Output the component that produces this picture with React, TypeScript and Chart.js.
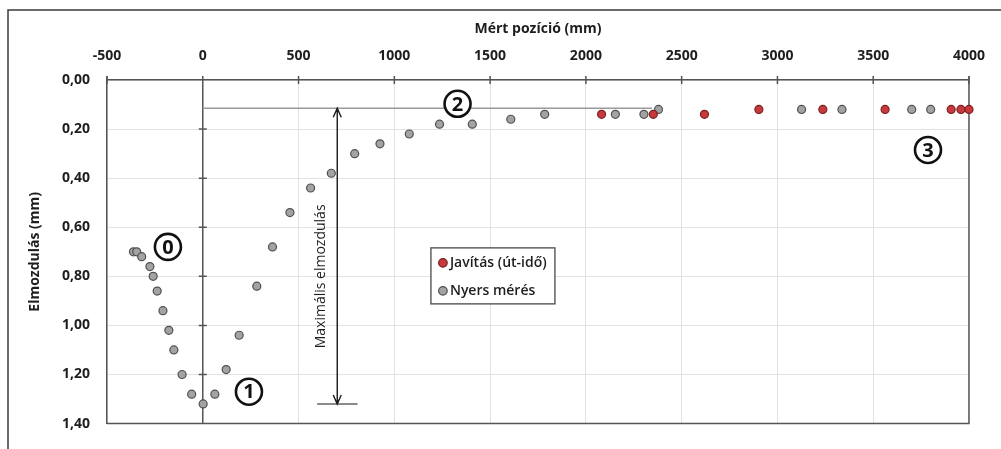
import React, { useEffect, useRef } from "react";
import { Chart, registerables } from "chart.js";

Chart.register(...registerables);

// ---- data ----
const xTickValues = [-500, 0, 500, 1000, 1500, 2000, 2500, 3000, 3500, 4000];
const yTickValues = [0, 0.2, 0.4, 0.6, 0.8, 1.0, 1.2, 1.4];

const rawLabel = "Nyers mérés";
const rawX = [-362, -345, -319, -276, -259, -238, -208, -177, -151, -108, -58, 2, 63, 122, 190, 282, 364, 455, 563, 671, 793, 925, 1078, 1236, 1407, 1608, 1785, 2154, 2303, 2379, 3126, 3337, 3701, 3800];
const rawY = [0.70, 0.70, 0.72, 0.76, 0.80, 0.86, 0.94, 1.02, 1.10, 1.20, 1.28, 1.32, 1.28, 1.18, 1.04, 0.84, 0.68, 0.54, 0.44, 0.38, 0.30, 0.26, 0.22, 0.18, 0.18, 0.16, 0.14, 0.14, 0.14, 0.12, 0.12, 0.12, 0.12, 0.12];

const corrLabel = "Javítás (út-idő)";
const corrX = [2082, 2352, 2619, 2903, 3237, 3562, 3907, 3958, 4000];
const corrY = [0.14, 0.14, 0.14, 0.12, 0.12, 0.12, 0.12, 0.12, 0.12];

const xTitle = "Mért pozíció (mm)";
const yTitle = "Elmozdulás (mm)";

// annotations (data coordinates)
const maxLineY = 0.115;
const maxLineX = [0, 2345];
const arrowX = 702;
const arrowY = [0.115, 1.32];
const baseLineX = [597, 808];
const baseLineY = 1.32;
const arrowText = "Maximális elmozdulás";
const arrowTextPos = { x: 618, y: 0.8 };
const circledLabels = [
  { t: "0", x: -182, y: 0.68 },
  { t: "1", x: 241, y: 1.27 },
  { t: "2", x: 1330, y: 0.097 },
  { t: "3", x: 3786, y: 0.285 },
];
const legendAnchor = { x: 1191, y: 0.684 };

const FONT = "'Open Sans', 'DejaVu Sans', sans-serif";
const AXIS = "#555555";
const GRID = "#e2e2e2";
const TEXT = "#1e1e1e";

const decor = {
  id: "decor",
  beforeDatasetsDraw(chart: any) {
    const { ctx, chartArea: a, scales } = chart;
    const xs = scales.x;
    const ys = scales.y;
    const px = (v: number) => xs.getPixelForValue(v);
    const py = (v: number) => ys.getPixelForValue(v);
    ctx.save();
    // borders
    ctx.strokeStyle = AXIS;
    ctx.lineWidth = 1.5;
    ctx.beginPath();
    ctx.moveTo(a.right, a.top - 4);
    ctx.lineTo(a.right, a.bottom);
    ctx.lineTo(a.left, a.bottom);
    ctx.moveTo(a.left, a.top - 4);
    ctx.lineTo(a.left, a.top);
    ctx.stroke();
    // x = 0 axis with cross ticks
    const x0 = px(0);
    ctx.beginPath();
    ctx.moveTo(x0, a.top - 4);
    ctx.lineTo(x0, a.bottom);
    for (const v of yTickValues) {
      if (v > 0 && v < 1.4) {
        ctx.moveTo(x0 - 4, py(v));
        ctx.lineTo(x0 + 4, py(v));
      }
    }
    for (const v of xTickValues) {
      ctx.moveTo(px(v), a.top - 4);
      ctx.lineTo(px(v), a.top + 4);
    }
    ctx.stroke();

    // max line
    ctx.strokeStyle = "#9a9a9a";
    ctx.lineWidth = 1.5;
    ctx.beginPath();
    ctx.moveTo(px(maxLineX[0]), py(maxLineY));
    ctx.lineTo(px(maxLineX[1]), py(maxLineY));
    ctx.stroke();
    // base line
    ctx.strokeStyle = "#8a8a8a";
    ctx.lineWidth = 2;
    ctx.beginPath();
    ctx.moveTo(px(baseLineX[0]), py(baseLineY));
    ctx.lineTo(px(baseLineX[1]), py(baseLineY));
    ctx.stroke();
    // arrow
    const ax = px(arrowX);
    const y1 = py(arrowY[0]);
    const y2 = py(arrowY[1]);
    ctx.strokeStyle = "#1a1a1a";
    ctx.lineWidth = 1.4;
    ctx.beginPath();
    ctx.moveTo(ax, y1);
    ctx.lineTo(ax, y2);
    ctx.moveTo(ax - 4, y1 + 9);
    ctx.lineTo(ax, y1);
    ctx.lineTo(ax + 4, y1 + 9);
    ctx.moveTo(ax - 4, y2 - 9);
    ctx.lineTo(ax, y2);
    ctx.lineTo(ax + 4, y2 - 9);
    ctx.stroke();
    // rotated text
    ctx.save();
    ctx.translate(px(arrowTextPos.x), py(arrowTextPos.y));
    ctx.rotate(-Math.PI / 2);
    ctx.fillStyle = TEXT;
    ctx.font = `500 14px ${FONT}`;
    ctx.textAlign = "center";
    ctx.textBaseline = "middle";
    ctx.fillText(arrowText, 0, 0);
    ctx.restore();
    // circled numbers
    for (const c of circledLabels) {
      const cx = px(c.x);
      const cy = py(c.y);
      ctx.beginPath();
      ctx.arc(cx, cy, 13, 0, Math.PI * 2);
      ctx.fillStyle = "#ffffff";
      ctx.fill();
      ctx.strokeStyle = "#111";
      ctx.lineWidth = 2.6;
      ctx.stroke();
      ctx.fillStyle = "#111";
      ctx.font = `bold 20px ${FONT}`;
      ctx.textAlign = "center";
      ctx.textBaseline = "middle";
      ctx.fillText(c.t, cx, cy + 1);
    }
    ctx.restore();
  },
  afterDraw(chart: any) {
    const { ctx, scales } = chart;
    const bx = scales.x.getPixelForValue(legendAnchor.x);
    const by = scales.y.getPixelForValue(legendAnchor.y);
    ctx.save();
    // legend
    const w = 124;
    const h = 56;
    ctx.fillStyle = "#fff";
    ctx.fillRect(bx, by, w, h);
    ctx.strokeStyle = "#555";
    ctx.lineWidth = 1.4;
    ctx.strokeRect(bx, by, w, h);
    const rows = chart.data.datasets;
    rows.forEach((ds: any, i: number) => {
      const ry = by + 15 + i * 28;
      ctx.beginPath();
      ctx.arc(bx + 12, ry, 4.3, 0, Math.PI * 2);
      ctx.fillStyle = ds.backgroundColor;
      ctx.fill();
      ctx.strokeStyle = ds.borderColor;
      ctx.lineWidth = 1.2;
      ctx.stroke();
      ctx.fillStyle = TEXT;
      ctx.font = `600 14px ${FONT}`;
      ctx.textAlign = "left";
      ctx.textBaseline = "middle";
      ctx.fillText(ds.label, bx + 19, ry);
    });
    // outer frame
    ctx.strokeStyle = "#3a3a3a";
    ctx.lineWidth = 1.5;
    ctx.beginPath();
    ctx.moveTo(8, chart.height);
    ctx.lineTo(8, 10);
    ctx.lineTo(chart.width, 10);
    ctx.stroke();
    ctx.restore();
  },
};

export default function App() {
  const ref = useRef<HTMLCanvasElement | null>(null);
  useEffect(() => {
    if (!ref.current) return;
    const chart = new Chart(ref.current, {
      type: "scatter",
      data: {
        datasets: [
          {
            label: corrLabel,
            data: corrX.map((x, i) => ({ x, y: corrY[i] })),
            backgroundColor: "#c8393d",
            borderColor: "#7a2222",
            borderWidth: 1.2,
            pointRadius: 4,
            order: 0,
            clip: false,
          },
          {
            label: rawLabel,
            data: rawX.map((x, i) => ({ x, y: rawY[i] })),
            backgroundColor: "#a3a3a3",
            borderColor: "#505050",
            borderWidth: 1.2,
            pointRadius: 4,
            order: 1,
            clip: false,
          },
        ],
      },
      options: {
        animation: false,
        responsive: false,
        devicePixelRatio: 1,
        layout: { padding: { left: 8, top: 10, right: 20, bottom: 9 } },
        plugins: { legend: { display: false }, tooltip: { enabled: false } },
        scales: {
          x: {
            type: "linear",
            position: "top",
            min: -500,
            max: 4000,
            afterBuildTicks: (s: any) => {
              s.ticks = xTickValues.map((v) => ({ value: v }));
            },
            afterFit: (s: any) => {
              s.height = 70;
            },
            ticks: {
              callback: (v: any) => String(v),
              font: { family: FONT, size: 14, weight: "bold" },
              color: TEXT,
              padding: 16,
              maxRotation: 0,
            },
            grid: {
              color: (c: any) => (c.tick && c.tick.value === 0 ? "rgba(0,0,0,0)" : GRID),
              drawTicks: false,
            },
            border: { display: true, color: AXIS, width: 1.5 },
            title: {
              display: true,
              text: xTitle,
              font: { family: FONT, size: 14, weight: "bold" },
              color: TEXT,
              padding: { top: 10.5, bottom: 0 },
            },
          },
          y: {
            type: "linear",
            reverse: true,
            min: 0,
            max: 1.4,
            afterBuildTicks: (s: any) => {
              s.ticks = yTickValues.map((v) => ({ value: v }));
            },
            afterFit: (s: any) => {
              s.width = 99;
            },
            ticks: {
              callback: (v: any) => Number(v).toFixed(2).replace(".", ","),
              font: { family: FONT, size: 14, weight: "bold" },
              color: TEXT,
              padding: 17,
            },
            grid: { color: GRID, drawTicks: false },
            border: { display: true, color: AXIS, width: 1.5 },
            title: {
              display: true,
              text: yTitle,
              font: { family: FONT, size: 14, weight: "bold" },
              color: TEXT,
              padding: { top: 18.6, bottom: 0 },
            },
          },
        },
      },
      plugins: [decor],
    } as any);
    return () => chart.destroy();
  }, []);
  return (
    <div style={{ position: "fixed", left: 0, top: 0, width: 1001, height: 449, background: "#fff" }}>
      <canvas ref={ref} width={1001} height={449} style={{ display: "block", width: 1001, height: 449 }} />
    </div>
  );
}
